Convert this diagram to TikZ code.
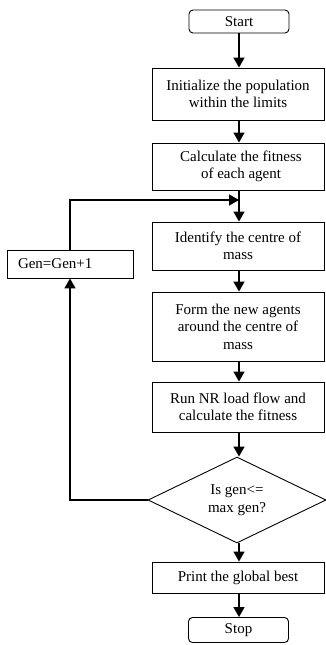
\documentclass[tikz,border=0pt]{standalone}
\usepackage{fontspec}
\setmainfont{Liberation Serif}
\usetikzlibrary{arrows.meta,shapes.geometric}
\begin{document}
\begin{tikzpicture}[x=1pt,y=-1pt,
  every node/.style={font=\fontsize{15}{17.5}\selectfont, align=center, inner sep=0pt},
  procbox/.style={draw, line width=0.9pt, minimum width=172pt},
  termbox/.style={draw, line width=0.9pt, rounded corners=4pt, minimum width=100pt},
  decbox/.style={draw, line width=0.9pt, diamond, aspect=2.07, minimum width=178pt, minimum height=86pt, inner sep=0pt},
  flow/.style={line width=1.6pt, -{Triangle[length=10pt,width=11pt]}}
]
\useasboundingbox (0,0) rectangle (326,645);

\node[termbox, minimum height=23pt] (start) at (239,21.5) {Start};
\node[procbox, minimum height=52pt] (init) at (238,94) {Initialize the population\\within the limits};
\node[procbox, minimum height=47pt] (fit) at (238,166.5) {\hspace*{6pt}Calculate the fitness\\\hspace*{6pt}of each agent};
\node[procbox, minimum height=48pt] (com) at (238,246) {Identify the centre of\\mass};
\node[procbox, minimum height=69pt] (form) at (238,326.5) {Form the new agents\\around the centre of\\mass};
\node[procbox, minimum height=50pt] (nr) at (238,407) {Run NR load flow and\\calculate the fitness};
\node[decbox] (dec) at (237,500) {Is gen<=\\max gen?};
\node[procbox, minimum height=31pt] (best) at (238,577.5) {Print the global best};
\node[termbox, minimum height=25pt] (stop) at (238.5,630) {Stop};
\node[draw, line width=0.9pt, minimum width=126pt, minimum height=28pt, text width=104pt, align=left] (gen) at (70,264) {Gen=Gen+1};

\coordinate (loopL) at (70,500);
\coordinate (loopT) at (70,200);
\coordinate (join) at (239,200);

\draw[flow] (start.south -| 239,0) -- (init.north -| 239,0);
\draw[flow] (init.south -| 239,0) -- (fit.north -| 239,0);
\draw[flow] (fit.south -| 239,0) -- (com.north -| 239,0);
\draw[flow] (com.south -| 239,0) -- (form.north -| 239,0);
\draw[flow] (form.south -| 239,0) -- (nr.north -| 239,0);
\draw[flow] (nr.south -| 239,0) -- (dec.north -| 239,0);
\draw[flow] (dec.south -| 239,0) -- (best.north -| 239,0);
\draw[flow] (best.south -| 239,0) -- (stop.north -| 239,0);

\draw[flow] (dec.west) -- (loopL) -- (gen.south);
\draw[flow] (gen.north) -- (loopT) -- (join);
\end{tikzpicture}
\end{document}
